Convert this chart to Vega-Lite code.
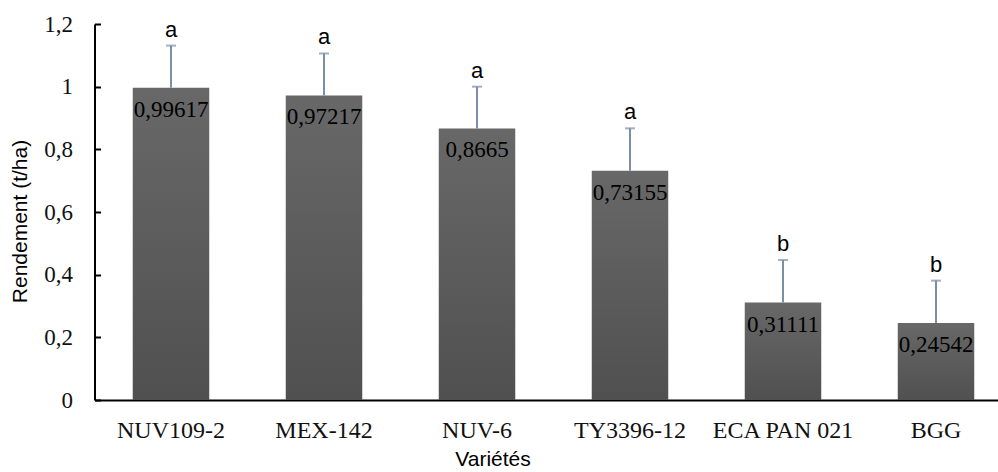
{
  "$schema": "https://vega.github.io/schema/vega-lite/v6.json",
  "width": 918,
  "height": 376,
  "autosize": "none",
  "padding": {"left": 94.5, "top": 24, "right": 0, "bottom": 72},
  "background": "white",
  "config": {
    "view": {"stroke": null},
    "locale": {"number": {"decimal": ",", "thousands": " ", "grouping": [3], "currency": ["", " €"]}}
  },
  "data": {
    "values": [
      {"variete": "NUV109-2", "rendement": 0.99617, "sup": 1.131, "groupe": "a"},
      {"variete": "MEX-142", "rendement": 0.97217, "sup": 1.106, "groupe": "a"},
      {"variete": "NUV-6", "rendement": 0.8665, "sup": 1.0, "groupe": "a"},
      {"variete": "TY3396-12", "rendement": 0.73155, "sup": 0.867, "groupe": "a"},
      {"variete": "ECA PAN 021", "rendement": 0.31111, "sup": 0.447, "groupe": "b"},
      {"variete": "BGG", "rendement": 0.24542, "sup": 0.381, "groupe": "b"}
    ]
  },
  "encoding": {
    "x": {
      "field": "variete",
      "type": "nominal",
      "sort": null,
      "scale": {"paddingInner": 0.5, "paddingOuter": 0.25},
      "axis": {
        "title": "Variétés",
        "titleFont": "Liberation Sans",
        "titleFontSize": 21,
        "titleFontWeight": "normal",
        "titleColor": "#000",
        "titleX": 398,
        "titleY": 65,
        "titleAlign": "center",
        "titleBaseline": "alphabetic",
        "labelAngle": 0,
        "labelFont": "Liberation Serif",
        "labelFontSize": 24,
        "labelColor": "#111",
        "labelPadding": 18,
        "ticks": false,
        "domainColor": "#000",
        "domainWidth": 2
      }
    }
  },
  "layer": [
    {
      "mark": {
        "type": "bar",
        "fill": {
          "gradient": "linear",
          "x1": 0, "y1": 0, "x2": 0, "y2": 1,
          "stops": [
            {"offset": 0, "color": "#686868"},
            {"offset": 1, "color": "#505050"}
          ]
        }
      },
      "encoding": {
        "y": {
          "field": "rendement",
          "type": "quantitative",
          "scale": {"domain": [0, 1.2], "nice": false},
          "axis": {
            "title": "Rendement (t/ha)",
            "titleFont": "Liberation Sans",
            "titleFontSize": 21,
            "titleFontWeight": "normal",
            "titleColor": "#000",
            "titleAngle": 270,
            "titleX": -74,
            "titleY": 197,
            "titleAlign": "center",
            "titleBaseline": "middle",
            "values": [0, 0.2, 0.4, 0.6, 0.8, 1, 1.2],
            "format": "~g",
            "labelFont": "Liberation Serif",
            "labelFontSize": 23,
            "labelColor": "#111",
            "labelPadding": 28,
            "tickSize": -6,
            "tickColor": "#000",
            "tickWidth": 2,
            "grid": false,
            "domainColor": "#000",
            "domainWidth": 2
          }
        }
      }
    },
    {
      "mark": {"type": "rule", "color": "#7b8ea5", "strokeWidth": 2},
      "encoding": {
        "y": {"field": "rendement", "type": "quantitative"},
        "y2": {"field": "sup"}
      }
    },
    {
      "mark": {"type": "tick", "color": "#7b8ea5", "thickness": 2, "size": 10},
      "encoding": {
        "y": {"field": "sup", "type": "quantitative"}
      }
    },
    {
      "mark": {"type": "text", "font": "Liberation Sans", "fontSize": 22, "color": "#000", "baseline": "alphabetic", "dy": -9},
      "encoding": {
        "y": {"field": "sup", "type": "quantitative"},
        "text": {"field": "groupe"}
      }
    },
    {
      "mark": {"type": "text", "font": "Liberation Serif, Times New Roman, serif", "fontSize": 23, "color": "#000", "baseline": "alphabetic", "dy": 29},
      "encoding": {
        "y": {"field": "rendement", "type": "quantitative"},
        "text": {"field": "rendement", "type": "quantitative", "format": "~g"}
      }
    }
  ]
}
